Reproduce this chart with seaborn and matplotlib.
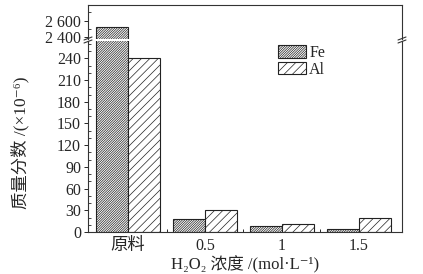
import matplotlib
matplotlib.use("Agg")
import matplotlib.pyplot as plt
import seaborn as sns
import pandas as pd
import numpy as np
from matplotlib.patches import Patch
from matplotlib.ticker import FixedLocator, MultipleLocator

categories = ["原料", "0.5", "1", "1.5"]
fe_values = [2520, 17.5, 8, 4]
al_values = [241, 30, 11.5, 19]
series = ["Fe", "Al"]
lower_ticks = [0, 30, 60, 90, 120, 150, 180, 210, 240]
upper_ticks = [2400, 2600]
upper_labels = ["2 400", "2 600"]

sns.set_style("ticks")
FAM = ["Liberation Serif", "Noto Sans CJK SC", "DejaVu Serif"]
plt.rcParams["font.family"] = FAM
plt.rcParams["hatch.linewidth"] = 0.5

df = pd.DataFrame({
    "cat": categories * 2,
    "val": fe_values + al_values,
    "el": ["Fe"] * len(categories) + ["Al"] * len(categories),
})

W, H = 423, 274
fig = plt.figure(figsize=(W / 100, H / 100), dpi=100)

def ax_rect(x0, y0, x1, y1):
    return [x0 / W, 1 - y1 / H, (x1 - x0) / W, (y1 - y0) / H]

ax_top = fig.add_axes(ax_rect(88, 5, 402, 38.5))
ax_bot = fig.add_axes(ax_rect(88, 41, 402, 232))

hatches = {"Fe": "//////////////", "Al": "////"}
palette = {"Fe": "white", "Al": "white"}

for ax in (ax_top, ax_bot):
    sns.barplot(data=df, x="cat", y="val", hue="el", order=categories,
                hue_order=series, palette=palette, width=0.84, dodge=True,
                edgecolor="black", linewidth=0.8, ax=ax, legend=False,
                saturation=1)
    n = len(categories)
    for i, p in enumerate(ax.patches[:2 * n]):
        p.set_hatch(hatches[series[i // n]])
        p.set_edgecolor("#222222")
    ax.set_xlim(-0.52, 3.56)
    ax.set_xlabel("")
    ax.set_ylabel("")
    for s in ax.spines.values():
        s.set_linewidth(0.8)
        s.set_color("#333333")

TICK_FS = 11.5
ax_bot.set_ylim(0, 264)
ax_bot.spines["top"].set_visible(False)
ax_bot.yaxis.set_major_locator(FixedLocator(lower_ticks))
ax_bot.yaxis.set_minor_locator(MultipleLocator(10))
ax_bot.xaxis.set_minor_locator(FixedLocator([0.5, 1.5, 2.5]))
ax_bot.tick_params(axis="y", which="major", direction="out", length=3, width=0.7,
                   labelsize=TICK_FS, pad=2)
ax_bot.tick_params(axis="y", which="minor", direction="in", length=2, width=0.6)
ax_bot.tick_params(axis="x", which="major", length=0, labelsize=TICK_FS, pad=4)
ax_bot.tick_params(axis="x", which="minor", direction="in", length=2.5, width=0.7)
for lbl in ax_bot.get_xticklabels():
    if lbl.get_text() == "原料":
        lbl.set_fontsize(12.5)

ax_top.set_ylim(2388, 2788)
ax_top.spines["bottom"].set_visible(False)
ax_top.set_xticks([])
ax_top.yaxis.set_major_locator(FixedLocator(upper_ticks))
ax_top.set_yticklabels(upper_labels)
ax_top.yaxis.set_minor_locator(MultipleLocator(100))
ax_top.tick_params(axis="y", which="major", direction="out", length=3, width=0.7,
                   labelsize=TICK_FS, pad=2)
ax_top.tick_params(axis="y", which="minor", direction="in", length=2, width=0.6)

# break marks
for xpx in (88, 402):
    for dy in (-1.5, 1.5):
        yc = 40 + dy
        fig.add_artist(plt.Line2D([(xpx - 4) / W, (xpx + 4) / W],
                                  [1 - (yc + 1.5) / H, 1 - (yc - 1.5) / H],
                                  color="#333333", lw=0.8))

handles = [Patch(facecolor="white", edgecolor="#222222", hatch=hatches[s],
                 linewidth=0.8, label=s) for s in series]
ax_bot.legend(handles=handles, loc="upper left", bbox_to_anchor=(0.575, 1.03),
              frameon=False, fontsize=11.5, handlelength=1.75, handleheight=0.85,
              handletextpad=0.2, labelspacing=0.05, borderaxespad=0.2)

ax_bot.set_xlabel("H₂O₂ 浓度 /(mol·L⁻¹)", fontsize=12, labelpad=2)
fig.text(20 / W, 1 - 143 / H, "质量分数 /(×10⁻⁶)", rotation=90,
         ha="center", va="center", fontsize=12.5)

fig.savefig("out.png", dpi=100)
